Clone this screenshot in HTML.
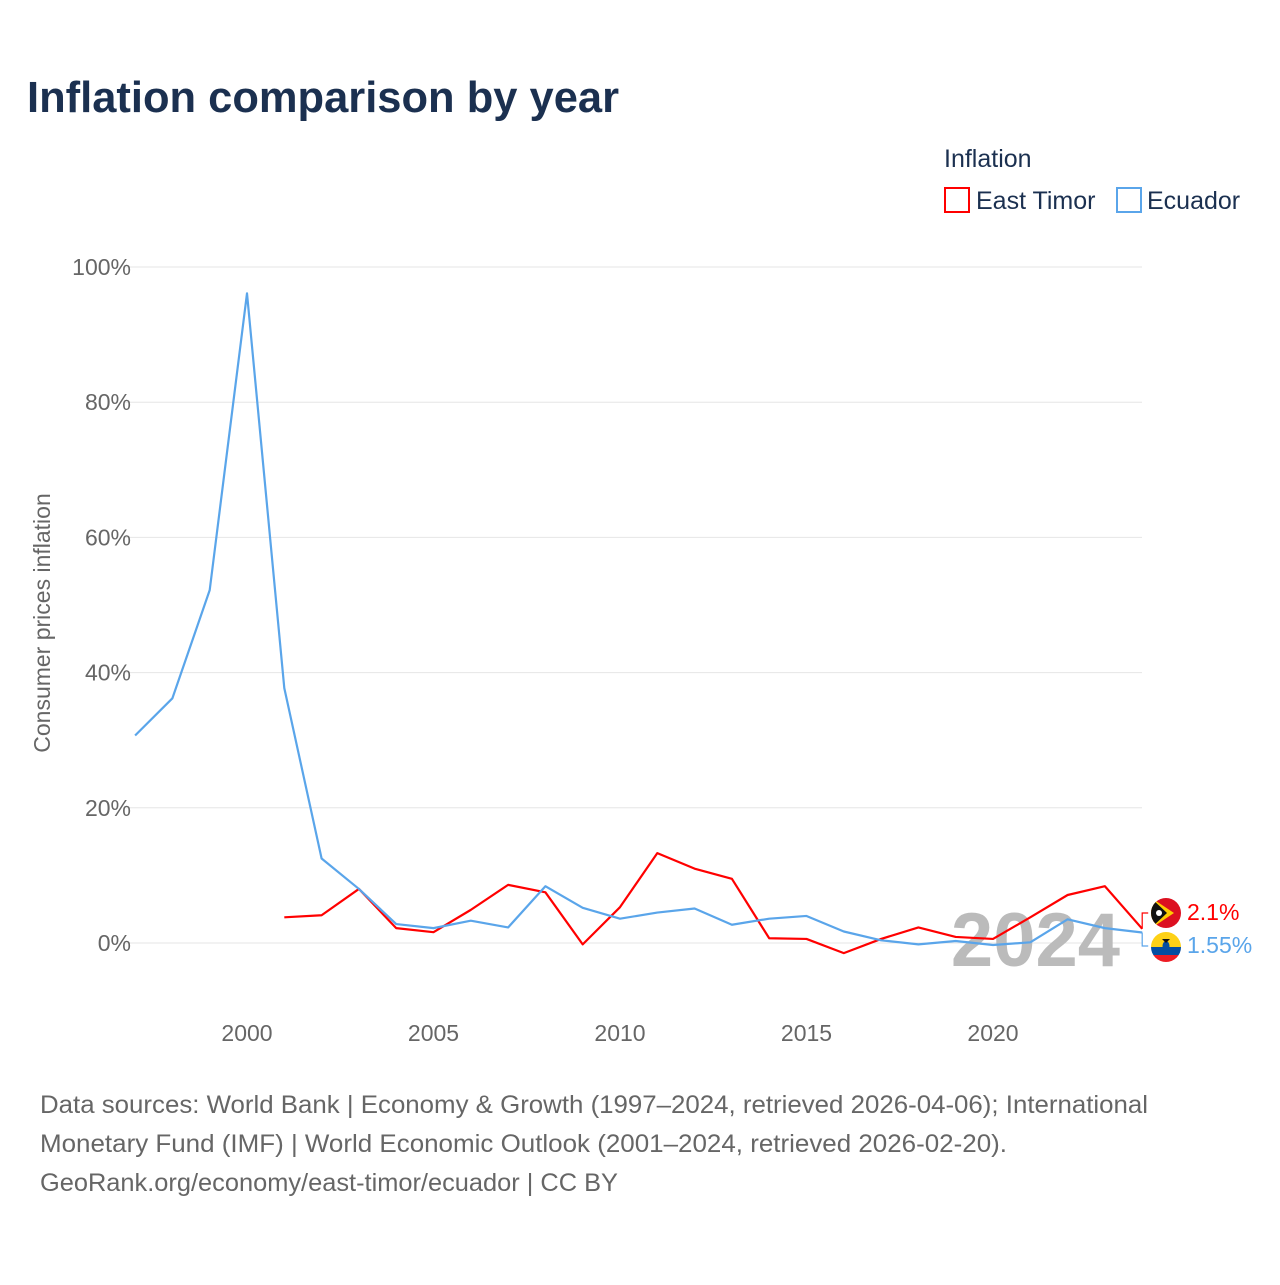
<!DOCTYPE html>
<html><head><meta charset="utf-8"><style>
body{margin:0;background:#fff;font-family:"Liberation Sans",sans-serif;}
svg text{font-family:"Liberation Sans",sans-serif;}
</style></head><body>
<svg width="1280" height="1280">
<text x="27" y="112" font-size="44" font-weight="bold" fill="#1b3050" textLength="592" lengthAdjust="spacingAndGlyphs">Inflation comparison by year</text>
<text x="944" y="167" font-size="25" fill="#1b3050">Inflation</text>
<g><rect x="945" y="188" width="24" height="24" fill="none" stroke="#f00" stroke-width="2"/><text x="976" y="209" font-size="25" fill="#1b3050">East Timor</text></g>
<g><rect x="1117" y="188" width="24" height="24" fill="none" stroke="#5aa5ea" stroke-width="2"/><text x="1147" y="209" font-size="25" fill="#1b3050">Ecuador</text></g>
<text transform="translate(50,623) rotate(-90)" text-anchor="middle" font-size="23" fill="#666">Consumer prices inflation</text>
<g id="grid"></g><g id="yt"></g><g id="xt"></g>
<text x="1120" y="966" text-anchor="end" font-size="76" font-weight="bold" fill="#bbb">2024</text>
<g id="lines"></g>
<g id="ends"></g>
<text x="40" y="1113" font-size="25" fill="#666" textLength="1108" lengthAdjust="spacingAndGlyphs">Data sources: World Bank | Economy &amp; Growth (1997–2024, retrieved 2026-04-06); International</text>
<text x="40" y="1152" font-size="25" fill="#666" textLength="967" lengthAdjust="spacingAndGlyphs">Monetary Fund (IMF) | World Economic Outlook (2001–2024, retrieved 2026-02-20).</text>
<text x="40" y="1191" font-size="25" fill="#666" textLength="578" lengthAdjust="spacingAndGlyphs">GeoRank.org/economy/east-timor/ecuador | CC BY</text>
</svg>
<script>
const years=[1997,1998,1999,2000,2001,2002,2003,2004,2005,2006,2007,2008,2009,2010,2011,2012,2013,2014,2015,2016,2017,2018,2019,2020,2021,2022,2023,2024];
const ecuador=[30.7,36.2,52.2,96.1,37.7,12.5,8.0,2.8,2.2,3.3,2.3,8.4,5.2,3.6,4.5,5.1,2.7,3.6,4.0,1.7,0.4,-0.2,0.3,-0.3,0.1,3.5,2.2,1.55];
const timor=[null,null,null,null,3.8,4.1,8.0,2.2,1.6,4.9,8.6,7.5,-0.2,5.3,13.3,11.0,9.5,0.7,0.6,-1.5,0.6,2.3,0.9,0.6,3.8,7.1,8.4,2.1];
const yTicks=[0,20,40,60,80,100];
const xTicks=[2000,2005,2010,2015,2020];
const NS="http://www.w3.org/2000/svg";
const X=y=>247+(y-2000)*37.3;
const Y=v=>943-v*6.76;
function mk(tag,attrs,parent){const e=document.createElementNS(NS,tag);for(const k in attrs)e.setAttribute(k,attrs[k]);document.getElementById(parent).appendChild(e);return e;}
yTicks.forEach(t=>{
 const l=mk('line',{x1:125,x2:1142,y1:Y(t),y2:Y(t),stroke:'#e6e6e6','stroke-width':1},'grid');
 
 
 const tx=mk('text',{x:131,y:Y(t)+8,'text-anchor':'end','font-size':23,fill:'#666'},'yt');tx.textContent=t+'%';
 
 
});
xTicks.forEach(t=>{
 const tx=mk('text',{x:X(t),y:1041,'text-anchor':'middle','font-size':23,fill:'#666'},'xt');tx.textContent=t;
 
 
});
function line(vals,color,name){
 let d='';vals.forEach((v,i)=>{if(v===null)return;d+=(d?'L':'M')+X(years[i])+' '+Y(v);});
 const p=mk('path',{d:d,fill:'none',stroke:color,'stroke-width':2.2,'stroke-linejoin':'round'},'lines');
 
 
}
line(timor,'#f00','line-east-timor');
line(ecuador,'#5aa5ea','line-ecuador');
const lt=timor[timor.length-1],le=ecuador[ecuador.length-1];
const xe=X(2024);
mk('path',{d:`M${xe} ${Y(lt)}L${xe} ${913}L${xe+6} 913`,fill:'none',stroke:'#f00','stroke-width':1.2},'ends');
mk('path',{d:`M${xe} ${Y(le)}L${xe} ${946}L${xe+6} 946`,fill:'none',stroke:'#5aa5ea','stroke-width':1.2},'ends');
const f1=mk('g',{},'ends');
f1.innerHTML='<clipPath id="c1"><circle cx="1166" cy="913" r="15"/></clipPath><g clip-path="url(#c1)"><rect x="1150" y="897" width="32" height="32" fill="#dc1020"/><polygon points="1150,897 1174,913 1150,929" fill="#fc0"/><polygon points="1150,897 1167,913 1150,929" fill="#111"/><circle cx="1159" cy="913" r="3" fill="#fff"/></g>';
const f2=mk('g',{},'ends');
f2.innerHTML='<clipPath id="c2"><circle cx="1166" cy="947" r="15"/></clipPath><g clip-path="url(#c2)"><rect x="1150" y="931" width="32" height="16" fill="#fdd116"/><rect x="1150" y="947" width="32" height="8" fill="#034ea2"/><rect x="1150" y="955" width="32" height="8" fill="#ed1c24"/><ellipse cx="1166" cy="946" rx="3.5" ry="5" fill="#034ea2"/><path d="M1162 939L1170 939L1166 943Z" fill="#111"/></g>';
const t1=mk('text',{x:1187,y:920,'font-size':23,fill:'#f00'},'ends');t1.textContent=lt+'%';


const t2=mk('text',{x:1187,y:953,'font-size':23,fill:'#5aa5ea'},'ends');t2.textContent=le+'%';


</script>
</body></html>
